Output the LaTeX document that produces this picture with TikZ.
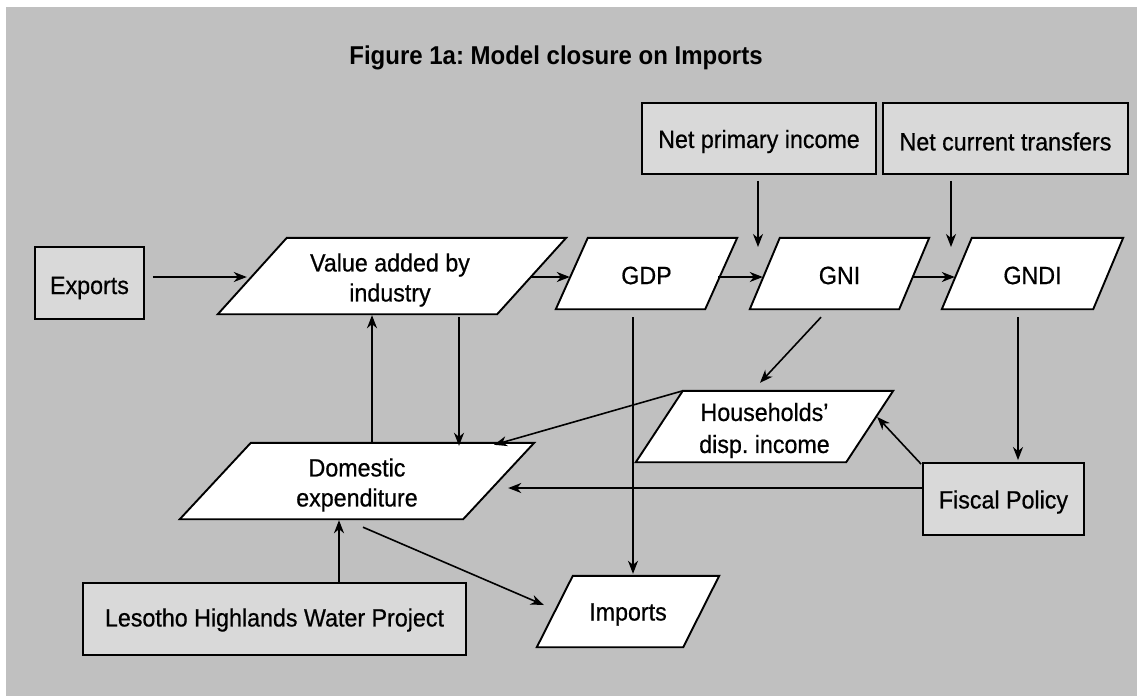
\documentclass[tikz,border=0pt]{standalone}
\usepackage{fontspec}
\setmainfont{Liberation Sans}[FakeStretch=0.93]
\newfontfamily\nodefam{Liberation Sans}[FakeStretch=0.93, FakeBold=0.6]
\usetikzlibrary{arrows.meta}
\pgfdeclarelayer{back}
\pgfsetlayers{back,main}
\definecolor{bggray}{HTML}{C0C0C0}
\definecolor{boxgray}{HTML}{D9D9D9}
\newcommand\nodefont{\nodefam\fontsize{25}{30}\selectfont}
\frenchspacing
\tikzset{
  box/.style={draw=black, fill=boxgray, line width=1.9pt, inner sep=0pt},
  shapearea/.style={inner sep=0pt},
  txt/.style={inner sep=0pt, align=center, font=\nodefont},
  pshape/.style={draw=black, fill=white, line width=1.9pt, line join=miter},
  arr/.style={-{Stealth[length=13pt,width=10pt,inset=4pt]}, line width=1.6pt},
}
\newcommand\parashape[2]{%
  \begin{pgfonlayer}{back}
    \draw[pshape] ([xshift=#2pt]#1.north west) -- (#1.north east)
      -- ([xshift=-#2pt]#1.south east) -- (#1.south west) -- cycle;
  \end{pgfonlayer}}
\begin{document}
\begin{tikzpicture}[x=1pt,y=-1pt]
\useasboundingbox (0,0) rectangle (1137,696);
\begin{pgfonlayer}{back}
  \fill[white] (0,0) rectangle (1137,696);
  \fill[bggray] (6,7) rectangle (1137,696);
\end{pgfonlayer}

% title
\node[inner sep=0pt, anchor=base, font=\fontsize{25.8}{30}\selectfont\bfseries] (title) at (556,64) {Figure 1a: Model closure on Imports};

% boxes
\node[box, minimum width=109pt, minimum height=72pt] (exports) at (89.5,283) {};
\node[box, minimum width=234pt, minimum height=71pt] (netprim) at (759,138.5) {};
\node[box, minimum width=245pt, minimum height=71pt] (netcurr) at (1005.5,138.5) {};
\node[box, minimum width=161pt, minimum height=72pt] (fiscal) at (1003.5,499) {};
\node[box, minimum width=383pt, minimum height=72pt] (lhwp) at (274.5,619) {};

% parallelogram areas
\node[shapearea, minimum width=348pt, minimum height=76pt] (va) at (392,276) {};
\parashape{va}{69}
\node[shapearea, minimum width=181pt, minimum height=71pt] (gdp) at (646.5,273.5) {};
\parashape{gdp}{32}
\node[shapearea, minimum width=179pt, minimum height=71pt] (gni) at (839.5,273.5) {};
\parashape{gni}{30}
\node[shapearea, minimum width=181pt, minimum height=71pt] (gndi) at (1032.5,273.5) {};
\parashape{gndi}{30}
\node[shapearea, minimum width=257pt, minimum height=71pt] (hh) at (764.5,426.5) {};
\parashape{hh}{47}
\node[shapearea, minimum width=354pt, minimum height=76pt] (de) at (357,481) {};
\parashape{de}{71}
\node[shapearea, minimum width=182pt, minimum height=71pt] (imports) at (628,611.5) {};
\parashape{imports}{36}

% texts
\node[txt] (exports-t) at ([yshift=-5pt]exports.center) {Exports};
\node[txt] (netprim-t) at ([yshift=-3pt]netprim.center) {Net primary income};
\node[txt] (netcurr-t) at ([yshift=-3pt]netcurr.center) {Net current transfers};
\node[txt] (fiscal-t) at ([yshift=-3pt]fiscal.center) {Fiscal Policy};
\node[txt] (lhwp-t) at ([yshift=-1pt]lhwp.center) {Lesotho Highlands Water Project};
\node[txt] (va-t) at ([shift={(-2pt,-4pt)}]va.center) {Value added by\\industry};
\node[txt] (gdp-t) at ([yshift=-2pt]gdp.center) {GDP};
\node[txt] (gni-t) at ([yshift=-2pt]gni.center) {GNI};
\node[txt] (gndi-t) at ([yshift=-2pt]gndi.center) {GNDI};
\node[txt, font=\nodefam\fontsize{25}{32}\selectfont] (hh-t) at ([yshift=-4pt]hh.center) {Households’\\disp. income};
\node[txt] (de-t) at ([yshift=-4pt]de.center) {Domestic\\expenditure};
\node[txt] (imports-t) at ([yshift=-3pt]imports.center) {Imports};

% free ends
\coordinate (npiend) at (758,247);
\coordinate (nctend) at (951,247);

% connectors
\draw[arr] ([shift={(8pt,6pt)}]exports.east) -- ([shift={(29pt,-1pt)}]va.west);
\draw[arr] ([shift={(-35pt,-1pt)}]va.east) -- ([shift={(14pt,-3.5pt)}]gdp.west);
\draw[arr] ([shift={(-19pt,-3.5pt)}]gdp.east) -- ([shift={(13pt,-3.5pt)}]gni.west);
\draw[arr] ([shift={(-17pt,-3.5pt)}]gni.east) -- ([shift={(13pt,-3.5pt)}]gndi.west);
\draw[arr] ([shift={(-1pt,-6pt)}]netprim.south) -- (npiend);
\draw[arr] ([shift={(-54.5pt,-6pt)}]netcurr.south) -- (nctend);
\draw[arr] ([shift={(15pt,0pt)}]de.north) -- ([shift={(-20pt,-1pt)}]va.south);
\draw[arr] ([shift={(67pt,-3pt)}]va.south) -- ([shift={(102pt,-3pt)}]de.north);
\draw[arr] ([shift={(47pt,0pt)}]hh.north west) -- ([shift={(137pt,-2pt)}]de.north);
\draw[arr] ([shift={(-18.5pt,-8pt)}]gni.south) -- ([shift={(-4.5pt,8pt)}]hh.north);
\draw[arr, line width=1.2pt] ([shift={(-13.5pt,-8pt)}]gdp.south) -- ([shift={(5pt,2pt)}]imports.north);
\draw[arr] ([shift={(-14.5pt,-8pt)}]gndi.south) -- ([shift={(14.5pt,2pt)}]fiscal.north);
\draw[arr] ([shift={(-1pt,-2pt)}]fiscal.north west) -- ([shift={(-16pt,9.5pt)}]hh.east);
\draw[arr] ([shift={(0pt,11pt)}]fiscal.west) -- ([shift={(-26pt,-7pt)}]de.east);
\draw[arr] ([shift={(64.5pt,0pt)}]lhwp.north) -- ([shift={(-18pt,-1pt)}]de.south);
\draw[arr] ([shift={(6pt,-8pt)}]de.south) -- ([shift={(7pt,6.5pt)}]imports.west);
\end{tikzpicture}
\end{document}
